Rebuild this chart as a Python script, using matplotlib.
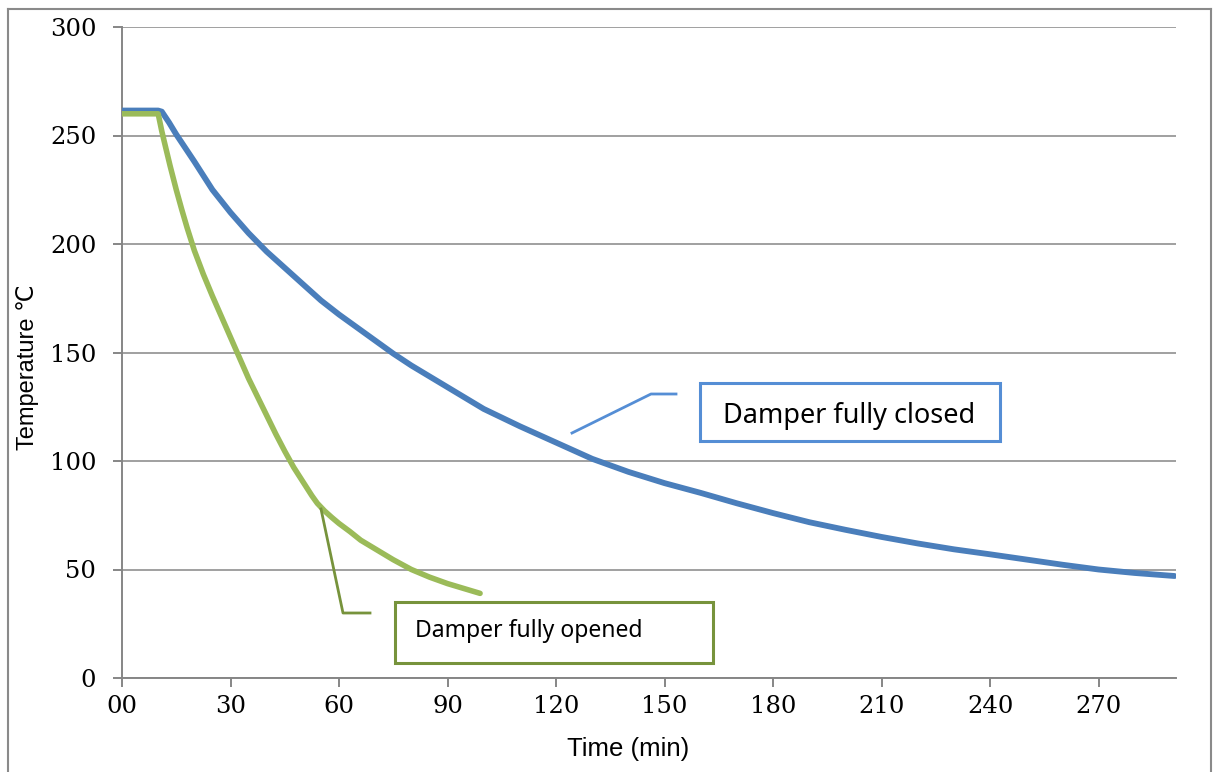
"""
damper cooling curves - temperature vs time
"""
import matplotlib
matplotlib.use("Agg")
import matplotlib.pyplot as plt
from matplotlib.lines import Line2D
from matplotlib.patches import Rectangle

# damper fully closed (blue)
t_closed = [0, 5, 10, 11, 12, 13, 15, 20, 25, 30, 35, 40, 45, 50, 55, 60, 65, 70,
            75, 80, 90, 100, 110, 120, 130, 140, 150, 160, 170, 180, 190, 200,
            210, 220, 230, 240, 250, 260, 270, 280, 291]
temp_closed = [261.5, 261.5, 261.5, 261, 258.5, 256, 250.5, 238, 225, 214.5, 205,
               196.5, 189, 181.5, 174, 167.5, 161.5, 155.5, 149.5, 144, 134, 124,
               116, 108.5, 101, 95, 89.8, 85.3, 80.5, 76, 71.8, 68.3, 65, 62, 59.3,
               57, 54.6, 52.2, 50, 48.4, 47]

# damper fully opened (green)
t_opened = [0, 5, 10, 11, 12, 13.3, 15, 16.5, 18, 20, 22.5, 25, 27.5, 30, 32.5, 35,
            37.5, 40, 42.5, 45, 47.5, 50, 52.5, 54, 56, 58, 60, 63, 66, 70, 75, 80,
            85, 90, 95, 99]
temp_opened = [260, 260, 260, 252, 245, 236, 225, 216, 207.5, 197, 186, 176, 166.5,
               157, 147.5, 138, 129.5, 121, 112.5, 104.5, 97, 90.5, 84, 80.5, 77, 74,
               71.2, 67.5, 63.5, 59.5, 54.5, 50, 46.5, 43.5, 41, 39]

x_ticks = list(range(0, 271, 30))
x_labels = ["00"] + [str(v) for v in x_ticks[1:]]
y_ticks = list(range(0, 301, 50))

plt.rcParams["font.family"] = "DejaVu Serif"
plt.rcParams["xtick.labelsize"] = 17.5
plt.rcParams["ytick.labelsize"] = 17.5

W, H = 1215, 772
fig = plt.figure(figsize=(W / 100, H / 100), dpi=100)
ax = fig.add_axes([122 / W, 1 - 678 / H, (1176 - 122) / W, (678 - 27) / H])

gray = "#868686"
ax.plot(t_closed, temp_closed, color="#4a7ebb", lw=4.2, solid_capstyle="round",
        solid_joinstyle="round", zorder=3)
ax.plot(t_opened, temp_opened, color="#9bbb59", lw=4.0, solid_capstyle="round",
        solid_joinstyle="round", zorder=3)

ax.set_xlim(0, 291.4)
ax.set_ylim(0, 300)
ax.set_xticks(x_ticks)
ax.set_xticklabels(x_labels)
ax.set_yticks(y_ticks)
for s in ["top", "right"]:
    ax.spines[s].set_visible(False)
for s in ["left", "bottom"]:
    ax.spines[s].set_color(gray)
    ax.spines[s].set_linewidth(1.4)
ax.yaxis.grid(True, color=gray, lw=1.1)
ax.set_axisbelow(True)
ax.tick_params(axis="both", color=gray, width=1.4, length=6.5, direction="out")
ax.tick_params(axis="y", pad=12)
ax.tick_params(axis="x", pad=6)

sans = ["Liberation Sans", "DejaVu Sans"]
ax.set_xlabel("Time (min)", fontsize=18.5, family=sans)
ax.set_ylabel("Temperature \u2103", fontsize=17, family=sans)
ax.xaxis.set_label_coords((628 - 122) / 1054, -(737 - 678) / 651)
ax.yaxis.set_label_coords((39 - 122) / 1054, (678 - 367) / 651)


def fx(x):
    return x / W


def fy(y):
    return 1 - y / H


# outer chart border
for xs, ys in [([8, 8], [9, 800]), ([8, 1211], [9, 9]), ([1211, 1211], [9, 800])]:
    fig.add_artist(Line2D([fx(v) for v in xs], [fy(v) for v in ys], color="#8a8a8a", lw=1.5))

# callout: closed
blue_c = "#558ed5"
fig.add_artist(Line2D([fx(572), fx(651), fx(676)], [fy(433), fy(394), fy(394)],
                      color=blue_c, lw=2))
fig.add_artist(Rectangle((fx(700), fy(441)), fx(1000) - fx(700), fy(383) - fy(441),
                         transform=fig.transFigure, fill=False, ec=blue_c, lw=2.2))
fig.text(fx(849), fy(416), "Damper fully closed", ha="center", va="center",
         fontsize=19.5, family="Noto Sans")

# callout: opened
green_c = "#77933c"
fig.add_artist(Line2D([fx(321), fx(343), fx(370)], [fy(509), fy(613), fy(613)],
                      color=green_c, lw=2))
fig.add_artist(Rectangle((fx(395), fy(663)), fx(713) - fx(395), fy(602) - fy(663),
                         transform=fig.transFigure, fill=False, ec=green_c, lw=2.2))
fig.text(fx(415), fy(631), "Damper fully opened", ha="left", va="center",
         fontsize=16.5, family="Noto Sans")

fig.savefig("out.png", dpi=100)
